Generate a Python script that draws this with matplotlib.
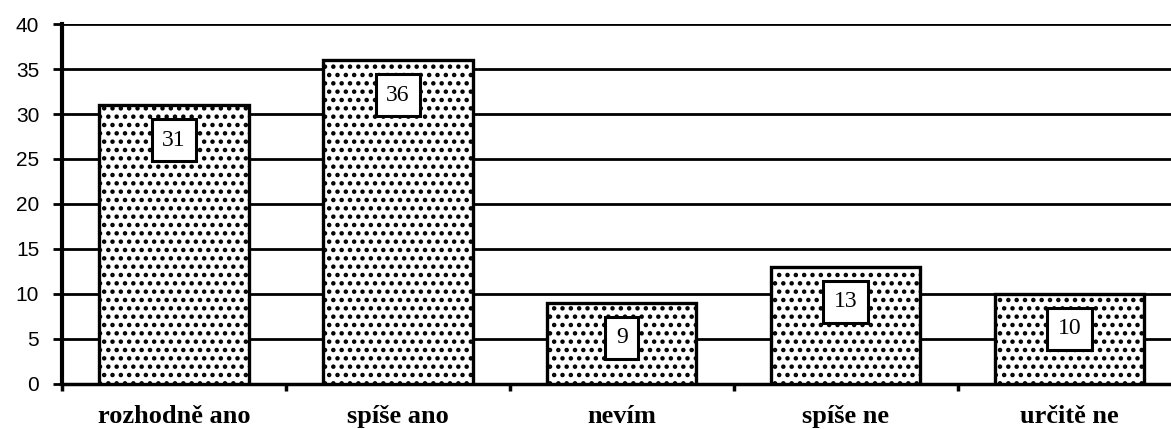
import numpy as np
import matplotlib
matplotlib.use("Agg")
from matplotlib import pyplot as plt

# odpovedi a pocty
categories = ['rozhodně ano', 'spíše ano', 'nevím', 'spíše ne', 'určitě ne']
values = [31, 36, 9, 13, 10]

plt.rcParams['hatch.linewidth'] = 2.0

fig = plt.figure(figsize=(11.71, 4.29), dpi=100)
ax = fig.add_axes([0.053, 0.105, 0.956, 0.839])

x = np.arange(len(categories))
bars = ax.bar(x, values, width=0.667, color='white', edgecolor='black',
              linewidth=2.4, hatch='..', zorder=3)

# popisky hodnot v ramecku
for b, v in zip(bars, values):
    ax.annotate(str(v), xy=(b.get_x() + b.get_width() / 2, v),
                xytext=(0, -35), textcoords='offset pixels',
                ha='center', va='center', fontsize=17, family='Liberation Serif',
                bbox=dict(boxstyle='square,pad=0.45', fc='white', ec='black', lw=2.2),
                zorder=5)

ax.set_ylim(0, 40)
ax.set_xlim(-0.5, 4.5)
ax.set_yticks(range(0, 41, 5))
ax.yaxis.grid(True, color='black', linewidth=2)
ax.set_axisbelow(True)

ax.set_xticks(x)
ax.set_xticklabels(categories, fontsize=19, fontweight='bold', family='Liberation Serif')
ax.tick_params(axis='x', which='major', length=0, pad=15)
ax.set_xticks(np.arange(-0.5, 5, 1), minor=True)
ax.tick_params(axis='x', which='minor', length=5, width=2.5, direction='out')
ax.tick_params(axis='y', length=6.5, width=2, labelsize=15, pad=10)
for lab in ax.get_yticklabels():
    lab.set_family('Liberation Sans')

for s in ['top', 'right']:
    ax.spines[s].set_visible(False)
ax.spines['left'].set_linewidth(3)
ax.spines['bottom'].set_linewidth(2.5)

fig.savefig('out.png', dpi=100)
